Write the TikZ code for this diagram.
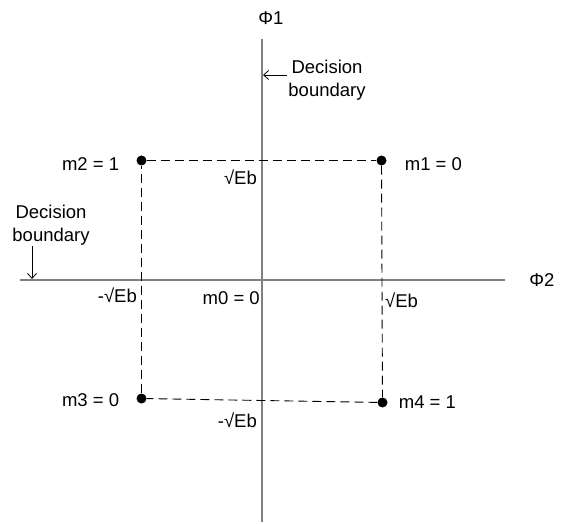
\documentclass[tikz,border=0pt]{standalone}
\usepackage{fontspec}
\setmainfont{Liberation Sans}
\usetikzlibrary{positioning, arrows.meta}

\begin{document}
\begin{tikzpicture}[
  x=1pt, y=-1pt,
  every node/.style={font=\fontsize{18.5}{23}\selectfont, inner sep=1pt},
  axis/.style={draw=black!50, line width=2.2pt},
  bound/.style={dash pattern=on 9pt off 5pt, line width=0.9pt},
  pt/.style={circle, fill=black, inner sep=0pt, minimum size=10pt},
  note/.style={align=center},
  arr/.style={-{Straight Barb[length=5pt, width=9pt]}, line width=0.8pt}
]
\useasboundingbox (0,0) rectangle (563,524);

% axes
\coordinate (yb) at (262,522);
\coordinate (yt) at (262,39);
\coordinate (xl) at (20,280);
\coordinate (xr) at (505,280);
\draw[axis] (yb) -- (yt);
\draw[axis] (xl) -- (xr);
\node (phi1) at (271,18) {Φ1};
\node (phi2) at (542,280) {Φ2};

% signal points
\node[pt] (p2) at (141.5,160.5) {};
\node[pt] (p1) at (381.5,160.5) {};
\node[pt] (p3) at (141.5,398.5) {};
\node[pt] (p4) at (382.5,402.5) {};
\foreach \i/\j in {p2/p1, p1/p4, p4/p3, p3/p2}
  \draw[bound] (\i) -- (\j);

% point labels
\node[left=16pt of p2, yshift=-4pt] (m2) {m2 = 1};
\node[right=17pt of p1, yshift=-4pt] (m1) {m1 = 0};
\node[left=16pt of p3, yshift=-2pt] (m3) {m3 = 0};
\node[right=10pt of p4] (m4) {m4 = 1};
\node[anchor=base east] (m0) at (261,305) {m0 = 0};

% amplitudes
\node[anchor=base east] (ea) at (258,185) {√Eb};
\node[anchor=base east] (eb) at (138,302) {-√Eb};
\node[anchor=base west] (ec) at (384,308) {√Eb};
\node[anchor=base east] (ed) at (258,427) {-√Eb};

% decision boundaries
\node[note] (db1) at (327,80) {Decision\\boundary};
\coordinate (t1) at (263,75);
\draw[arr] (db1.west |- t1) -- (t1);
\node[note] (db2) at (51,225) {Decision\\boundary};
\coordinate (t2) at (32,279);
\draw[arr] (t2 |- db2.south) -- (t2);
\end{tikzpicture}
\end{document}
